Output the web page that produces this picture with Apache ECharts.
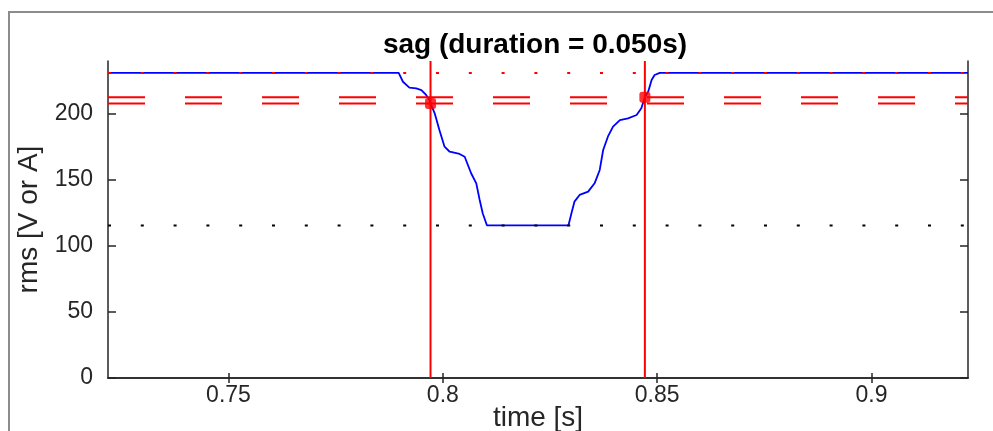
<!DOCTYPE html>
<html>
<head>
<meta charset="utf-8">
<title>sag</title>
<script src="https://cdn.jsdelivr.net/npm/echarts@6/dist/echarts.min.js"></script>
<style>
  html, body { margin: 0; padding: 0; background: #ffffff; }
  #chart { width: 993px; height: 431px; }
</style>
</head>
<body>
<div id="chart"></div>
<script>
// RMS trace of the event (time in s, rms in V)
const timeS = [0.7220, 0.7897, 0.7907, 0.7922, 0.7938, 0.7950, 0.7961, 0.7969, 0.79713, 0.7975,
  0.7981, 0.7992, 0.8004, 0.8016, 0.8039, 0.8051, 0.8066, 0.8078, 0.8086, 0.8093, 0.8103,
  0.8293, 0.8300, 0.8307, 0.8319, 0.8339, 0.8354, 0.8366, 0.8374, 0.8385, 0.8397, 0.8413,
  0.8432, 0.8452, 0.8463, 0.84713, 0.8479, 0.8487, 0.8494, 0.8506, 0.9225];
const rmsValues = [231, 231, 224.3, 219.8, 219.3, 218.0, 214.3, 210.5, 207.9, 206.7,
  200.4, 187.8, 175.1, 171.3, 169.6, 167.5, 155.0, 147.4, 134.8, 124.7, 115.5,
  115.5, 124.7, 133.5, 138.6, 141.1, 147.4, 157.5, 172.6, 182.7, 190.3, 195.3,
  196.6, 199.1, 204.2, 212.5, 216.8, 225.6, 229.4, 231, 231];

// reference level, sag start / end thresholds, lower limit
const referenceLevel = 231;
const thresholdLevels = [207.9, 212.5];
const lowerLevel = 115.5;

// detected event start / end and the rms at those instants
const eventTimes = [0.79713, 0.84713];
const eventValues = [207.9, 212.5];

// axis extents and ticks
const xRange = [0.7219, 0.9225];
const yRange = [0, 240];
const xTicks = [0.75, 0.8, 0.85, 0.9];
const yTicks = [0, 50, 100, 150, 200];

const titleText = 'sag (duration = 0.050s)';
const xLabel = 'time [s]';
const yLabel = 'rms [V or A]';

const FONT = '"Liberation Sans", Arial, Helvetica, sans-serif';
const AXIS_COLOR = '#262626';
const RED = '#ff0000';

function hLine(level) {
  return [[xRange[0], level], [xRange[1], level]];
}
function vLine(t) {
  return [[t, yRange[0]], [t, yRange[1]]];
}

const series = [];

series.push({
  name: 'rms',
  type: 'line',
  data: timeS.map((t, i) => [t, rmsValues[i]]),
  showSymbol: false,
  lineStyle: { color: '#0000ff', width: 1.8 },
  z: 2
});

series.push({
  type: 'line',
  data: hLine(referenceLevel),
  showSymbol: false,
  lineStyle: { color: RED, width: 2, type: [3, 29.8] },
  z: 3
});

thresholdLevels.forEach(level => {
  series.push({
    type: 'line',
    data: hLine(level),
    showSymbol: false,
    lineStyle: { color: RED, width: 2, type: [37, 40] },
    z: 3
  });
});

series.push({
  type: 'line',
  data: hLine(lowerLevel),
  showSymbol: false,
  lineStyle: { color: '#000000', width: 2, type: [3, 29.8] },
  z: 3
});

eventTimes.forEach(t => {
  series.push({
    type: 'line',
    data: vLine(t),
    showSymbol: false,
    lineStyle: { color: RED, width: 2 },
    z: 4
  });
});

series.push({
  type: 'scatter',
  data: eventTimes.map((t, i) => [t, eventValues[i]]),
  symbol: 'roundRect',
  symbolSize: 11,
  itemStyle: { color: RED },
  z: 5
});

const labelStyle = { color: AXIS_COLOR, fontFamily: FONT, fontSize: 23 };

const option = {
  animation: false,
  backgroundColor: '#ffffff',
  title: {
    text: titleText,
    left: 530,
    top: 26,
    textAlign: 'center',
    textStyle: { fontFamily: FONT, fontSize: 28, fontWeight: 'bold', color: '#000000' }
  },
  grid: { left: 108, top: 61, width: 860, height: 317, containLabel: false, outerBoundsMode: 'none' },
  xAxis: [
    {
      type: 'value', position: 'bottom', min: xRange[0], max: xRange[1],
      name: xLabel, nameLocation: 'middle', nameGap: 26, nameMoveOverlap: false,
      nameTextStyle: { color: AXIS_COLOR, fontFamily: FONT, fontSize: 28 },
      axisLine: { show: true, lineStyle: { color: AXIS_COLOR, width: 1.5 } },
      axisTick: { show: true, inside: true, length: 5, customValues: xTicks, lineStyle: { color: AXIS_COLOR, width: 1.5 } },
      axisLabel: Object.assign({ margin: 6, customValues: xTicks }, labelStyle),
      splitLine: { show: false }
    },
    {
      type: 'value', position: 'top', min: xRange[0], max: xRange[1],
      axisLine: { show: true, lineStyle: { color: AXIS_COLOR, width: 1.5 } },
      axisTick: { show: true, inside: true, length: 5, customValues: xTicks, lineStyle: { color: AXIS_COLOR, width: 1.5 } },
      axisLabel: { show: false },
      splitLine: { show: false }
    }
  ],
  yAxis: [
    {
      type: 'value', position: 'left', min: yRange[0], max: yRange[1],
      name: yLabel, nameLocation: 'middle', nameGap: 65, nameRotate: 90, nameMoveOverlap: false,
      nameTextStyle: { color: AXIS_COLOR, fontFamily: FONT, fontSize: 28 },
      axisLine: { show: true, lineStyle: { color: AXIS_COLOR, width: 1.5 } },
      axisTick: { show: true, inside: true, length: 8, customValues: yTicks, lineStyle: { color: AXIS_COLOR, width: 1.5 } },
      axisLabel: Object.assign({ margin: 15, customValues: yTicks }, labelStyle),
      splitLine: { show: false }
    },
    {
      type: 'value', position: 'right', min: yRange[0], max: yRange[1],
      axisLine: { show: true, lineStyle: { color: AXIS_COLOR, width: 1.5 } },
      axisTick: { show: true, inside: true, length: 8, customValues: yTicks, lineStyle: { color: AXIS_COLOR, width: 1.5 } },
      axisLabel: { show: false },
      splitLine: { show: false }
    }
  ],
  graphic: [
    {
      type: 'rect',
      shape: { x: 9, y: 12, width: 1000, height: 500 },
      style: { fill: null, stroke: '#8c8c8c', lineWidth: 2 },
      silent: true,
      z: -1
    }
  ],
  series: series
};

const chart = echarts.init(document.getElementById('chart'), null, { renderer: 'canvas' });
chart.setOption(option);
</script>
</body>
</html>
